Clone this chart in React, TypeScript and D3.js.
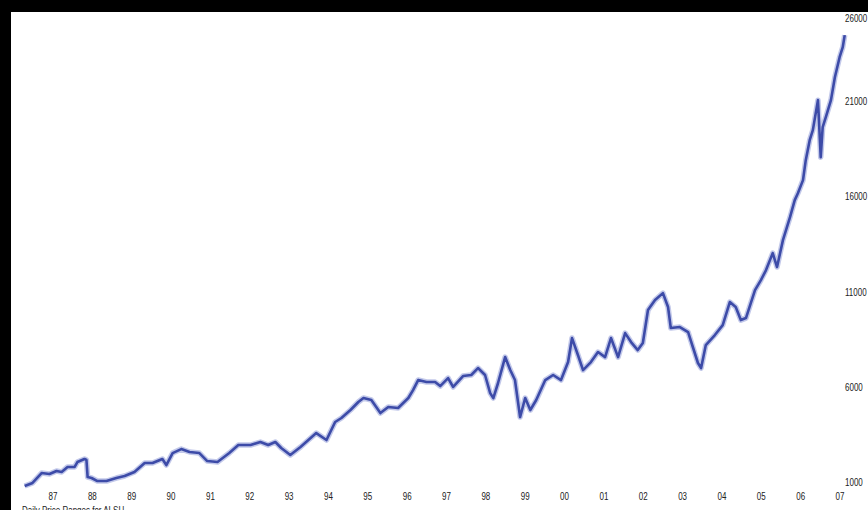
import React from "react";
import * as d3 from "d3";

// Decimal-year timestamps of the traced ALSH daily range band
const dates: number[] = [
  1986.28, 1986.48, 1986.71, 1986.91, 1987.09, 1987.22, 1987.37, 1987.55, 1987.62, 1987.8,
  1987.85, 1987.88, 1987.98, 1988.13, 1988.36, 1988.61, 1988.82, 1989.07, 1989.33, 1989.53,
  1989.78, 1989.88, 1990.04, 1990.26, 1990.47, 1990.72, 1990.92, 1991.18, 1991.48, 1991.71,
  1992.02, 1992.27, 1992.47, 1992.65, 1992.8, 1993.03, 1993.29, 1993.49, 1993.69, 1993.95,
  1994.17, 1994.33, 1994.56, 1994.76, 1994.89, 1995.09, 1995.32, 1995.52, 1995.77, 1996.03,
  1996.15, 1996.28, 1996.49, 1996.71, 1996.84, 1997.04, 1997.17, 1997.42, 1997.63, 1997.8,
  1997.98, 1998.11, 1998.19, 1998.31, 1998.49, 1998.62, 1998.74, 1998.87, 1999.0, 1999.13,
  1999.28, 1999.51, 1999.71, 1999.91, 2000.09, 2000.19, 2000.34, 2000.47, 2000.67, 2000.85,
  2001.03, 2001.18, 2001.36, 2001.54, 2001.69, 2001.86, 2001.99, 2002.12, 2002.3, 2002.5,
  2002.63, 2002.7, 2002.93, 2003.14, 2003.26, 2003.39, 2003.47, 2003.59, 2003.82, 2004.02,
  2004.2, 2004.35, 2004.48, 2004.61, 2004.84, 2004.99, 2005.12, 2005.29, 2005.4, 2005.55,
  2005.73, 2005.85, 2005.93, 2006.06, 2006.13, 2006.23, 2006.31, 2006.44, 2006.51, 2006.56,
  2006.64, 2006.77, 2006.87, 2006.99, 2007.07, 2007.12,
];

const closes: number[] = [
  1000, 1160, 1680, 1630, 1790, 1735, 2000, 2000, 2260, 2420,
  2365, 1470, 1420, 1260, 1260, 1420, 1525, 1735, 2210, 2210,
  2420, 2100, 2730, 2940, 2785, 2730, 2310, 2260, 2730, 3150,
  3150, 3310, 3150, 3310, 2995, 2630, 3050, 3415, 3780, 3415,
  4360, 4570, 4990, 5410, 5620, 5515, 4830, 5150, 5095, 5620,
  6040, 6565, 6460, 6460, 6250, 6670, 6200, 6775, 6830, 7195,
  6830, 5880, 5620, 6410, 7770, 7090, 6565, 4620, 5620, 4990,
  5515, 6565, 6830, 6565, 7510, 8770, 7880, 7090, 7510, 8035,
  7770, 8770, 7770, 9030, 8560, 8140, 8510, 10240, 10765, 11130,
  10400, 9295, 9350, 9085, 8300, 7460, 7195, 8400, 8930, 9450,
  10660, 10400, 9715, 9820, 11290, 11815, 12340, 13230, 12500, 13915,
  15120, 16015, 16380, 17065, 18115, 19165, 19690, 21265, 18270, 19850,
  20370, 21265, 22470, 23520, 24050, 24680,
];

const yTicks: number[] = [1000, 6000, 11000, 16000, 21000, 26000];
const xTickYears: number[] = [
  1987, 1988, 1989, 1990, 1991, 1992, 1993, 1994, 1995, 1996, 1997,
  1998, 1999, 2000, 2001, 2002, 2003, 2004, 2005, 2006, 2007,
];
const caption = "Daily Price Ranges for ALSH";

const W = 868;
const H = 510;
const FONT = "'Liberation Sans', Arial, sans-serif";
const SQUEEZE = 0.8;

function Narrow(props: { x: number; y: number; anchor?: string; children: string }) {
  return (
    <text
      transform={`translate(${props.x},${props.y}) scale(${SQUEEZE},1)`}
      textAnchor={props.anchor || "start"}
    >
      {props.children}
    </text>
  );
}

export default function App() {
  const x = d3.scaleLinear().domain([1987, 2007]).range([53, 840]);
  const y = d3.scaleLinear().domain([1000, 26000]).range([486, 10]);

  const pts = dates.map((d, i) => [d, closes[i]] as [number, number]);
  const line = d3
    .line<[number, number]>()
    .x((d) => x(d[0]))
    .y((d) => y(d[1]))
    .curve(d3.curveLinear);
  const path = line(pts) || "";

  return (
    <svg
      width={W}
      height={H}
      style={{ position: "fixed", left: 0, top: 0, display: "block" }}
    >
      <defs>
        <filter id="soft" x="-5%" y="-5%" width="110%" height="110%">
          <feGaussianBlur stdDeviation="0.75" />
        </filter>
      </defs>
      <rect x={0} y={0} width={W} height={H} fill="#000" />
      <rect x={11} y={12} width={W - 11} height={H - 12} fill="#fff" />

      <g filter="url(#soft)">
        <path d={path} fill="none" stroke="#c3c9ea" strokeWidth={5.5} strokeLinejoin="round" />
        <path d={path} fill="none" stroke="#3d4ca8" strokeWidth={2.6} strokeLinejoin="round" />
      </g>

      <g fontFamily={FONT} fontSize={10} fill="#222">
        {yTicks.map((v) => (
          <Narrow key={v} x={845} y={Math.max(y(v), 22)}>
            {String(v)}
          </Narrow>
        ))}
        {xTickYears.map((yr) => (
          <Narrow key={yr} x={x(yr)} y={500} anchor="middle">
            {String(yr % 100).padStart(2, "0")}
          </Narrow>
        ))}
        <Narrow x={22} y={514}>
          {caption}
        </Narrow>
      </g>
    </svg>
  );
}
